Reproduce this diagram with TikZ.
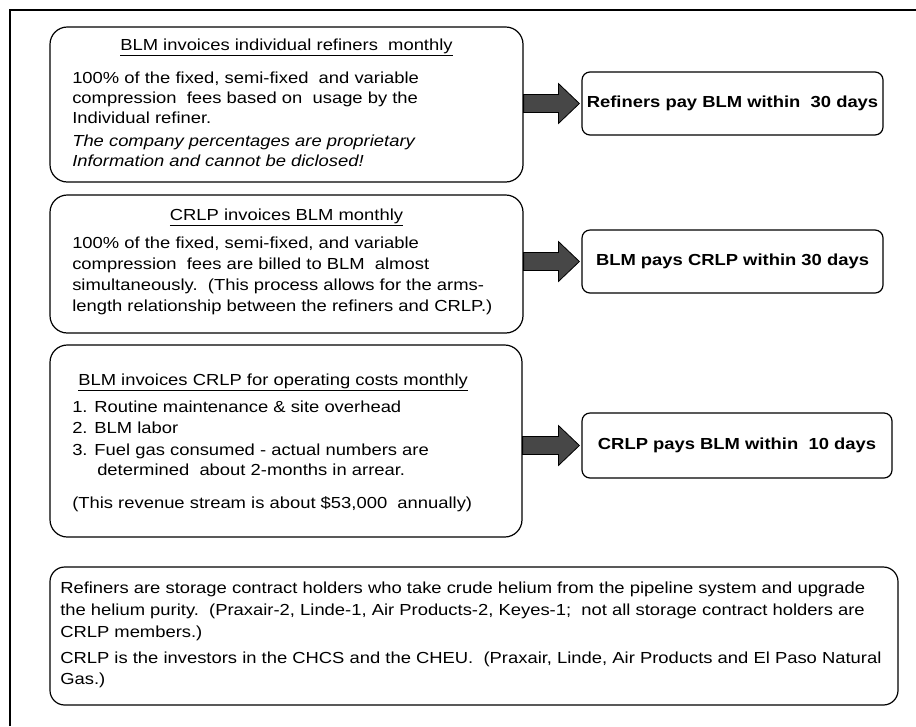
\documentclass[tikz,border=0pt]{standalone}
\usepackage{fontspec}
\setmainfont{Liberation Sans}[FakeStretch=1.15]
\usetikzlibrary{calc,fit}
\tikzset{
  bigbox/.style={draw=black, line width=0.9pt, rounded corners=13pt, inner sep=0pt},
  paybox/.style={draw=black, line width=0.9pt, rounded corners=6pt, inner sep=0pt},
  paytxt/.style={inner sep=0pt, font=\bfseries\fontsize{12}{14}\selectfont},
  txt/.style={anchor=base west, inner sep=0pt, font=\fontsize{12}{14}\selectfont},
  itxt/.style={txt, font=\itshape\fontsize{12}{14}\selectfont},
  ttl/.style={anchor=base, inner sep=0pt, font=\fontsize{12}{14}\selectfont},
  fatarrow/.style={draw=black, line width=0.6pt, fill=black!72},
  frameline/.style={draw=black, line width=1.6pt},
}
\begin{document}
\begin{tikzpicture}[x=0.75pt,y=-0.75pt]
\useasboundingbox (0,0) rectangle (916,726);
\fill[white] (0,0) rectangle (916,726);
% frame
\draw[frameline] (10,726) -- (10,10) -- (916,10);

% boxes
\node[bigbox, fit={(50,27) (523,182)}] (b1) {};
\node[bigbox, fit={(50,195) (523,333)}] (b2) {};
\node[bigbox, fit={(50,345) (522,537)}] (b3) {};
\node[bigbox, rounded corners=11pt, fit={(50,567) (898,705)}] (b4) {};
\node[paybox, fit={(582,72) (883,135)}] (rb1) {};
\node[paybox, fit={(582,230) (883,293)}] (rb2) {};
\node[paybox, fit={(582,413) (892,478)}] (rb3) {};

% pay texts
\node[paytxt] (rt1) at (rb1.center) {Refiners pay BLM within\ \ 30 days};
\node[paytxt] (rt2) at (rb2.center) {BLM pays CRLP within 30 days};
\node[paytxt] (rt3) at (rb3.center) {CRLP pays BLM within\ \ 10 days};

% arrows
\foreach \a/\b in {b1/rb1, b2/rb2, b3/rb3}{
  \draw[fatarrow] let \p1=(\a.east), \p2=(\b.west) in
    (\x1,\y2+6.75pt) -- (\x2-17.25pt,\y2+6.75pt) -- (\x2-17.25pt,\y2+15pt)
    -- (\x2-1.5pt,\y2) -- (\x2-17.25pt,\y2-15pt) -- (\x2-17.25pt,\y2-6.75pt)
    -- (\x1,\y2-6.75pt) -- cycle;
}

% box 1 text
\node[ttl] (t1) at (286.5,50) {\underline{BLM invoices individual refiners\ \ monthly}};
\node[txt] (t1a) at (72,83) {100\% of the fixed, semi-fixed\ \ and variable};
\node[txt] (t1b) at (72,103) {compression\ \ fees based on\ \ usage by the};
\node[txt] (t1c) at (72,123) {Individual refiner.};
\node[itxt] (t1d) at (72,146) {The company percentages are proprietary};
\node[itxt] (t1e) at (72,166) {Information and cannot be diclosed!};

% box 2 text
\node[ttl] (t2) at (286.5,220) {\underline{CRLP invoices BLM monthly}};
\node[txt] (t2a) at (72,248) {100\% of the fixed, semi-fixed, and variable};
\node[txt] (t2b) at (72,269) {compression\ \ fees are billed to BLM\ \ almost};
\node[txt] (t2c) at (72,290) {simultaneously.\ \ (This process allows for the arms-};
\node[txt] (t2d) at (72,311) {length relationship between the refiners and CRLP.)};

% box 3 text
\node[txt] (t3) at (78,385) {\underline{BLM invoices CRLP for operating costs monthly}};
\node[txt] (t3a) at (72,412) {1. Routine maintenance \& site overhead};
\node[txt] (t3b) at (72,433) {2. BLM labor};
\node[txt] (t3c) at (72,455) {3. Fuel gas consumed - actual numbers are};
\node[txt] (t3d) at (97,475) {determined\ \ about 2-months in arrear.};
\node[txt] (t3e) at (72,508) {(This revenue stream is about \$53,000\ \ annually)};

% box 4 text
\node[txt] (t4a) at (60,593) {Refiners are storage contract holders who take crude helium from the pipeline system and upgrade};
\node[txt] (t4b) at (60,615) {the helium purity.\ \ (Praxair-2, Linde-1, Air Products-2, Keyes-1;\ \ not all storage contract holders are};
\node[txt] (t4c) at (60,637) {CRLP members.)};
\node[txt] (t4d) at (60,663) {CRLP is the investors in the CHCS and the CHEU.\ \ (Praxair, Linde, Air Products and El Paso Natural};
\node[txt] (t4e) at (60,684) {Gas.)};
\end{tikzpicture}
\end{document}
